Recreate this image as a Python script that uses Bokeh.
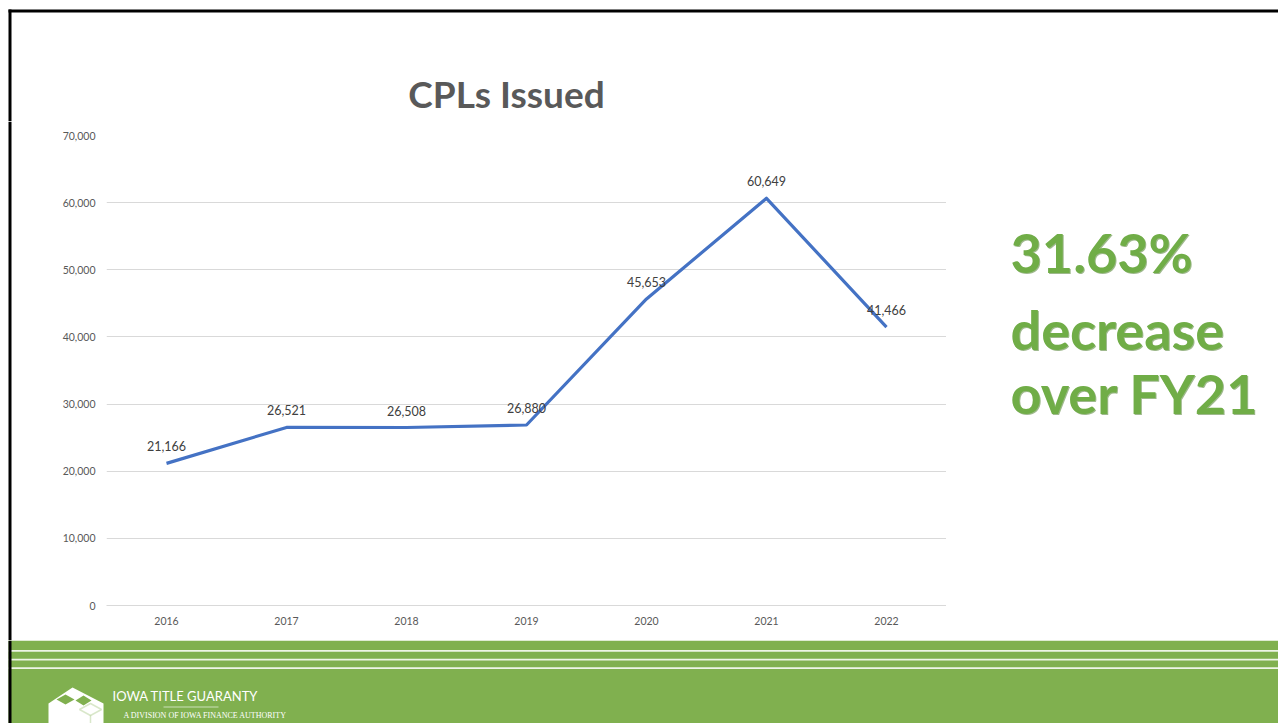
from bokeh.plotting import figure
from bokeh.layouts import column, row
from bokeh.models import (Range1d, FixedTicker, NumeralTickFormatter, Label, LabelSet,
                          BoxAnnotation, PolyAnnotation, ColumnDataSource)
from bokeh.core.properties import value
from bokeh.embed import file_html
from bokeh.resources import INLINE

# ---------------- data ----------------
years = ["2016", "2017", "2018", "2019", "2020", "2021", "2022"]
cpls = [21166, 26521, 26508, 26880, 45653, 60649, 41466]
y_ticks = [0, 10000, 20000, 30000, 40000, 50000, 60000, 70000]
title_text = "CPLs Issued"
note_lines = ["31.63%", "decrease", "over FY21"]
brand = "IOWA TITLE GUARANTY"
brand_sub = "A DIVISION OF IOWA FINANCE AUTHORITY"

# ---------------- layout (page pixels) ----------------
W, H = 1278, 723
FL, FT, FR, FB = 106, 135, 946, 605   # plot frame in page coordinates
TOP_H = 121                            # header strip height
FOOT_Y = 640                           # footer band top
STRIP_W = 12                           # left border strip width
GREEN = "#80B04F"
TEXT_GREEN = "#70AD47"
GRAY = "#595959"


def deco(x0, x1, y0, y1):
    """Decoration figure whose data coordinates equal page pixels."""
    f = figure(width=x1 - x0, height=y1 - y0, x_range=Range1d(x0, x1),
               y_range=Range1d(y1, y0), x_axis_type=None, y_axis_type=None,
               output_backend="svg", toolbar_location=None, min_border=0)
    f.outline_line_color = None
    f.background_fill_color = "white"
    f.border_fill_color = "white"
    return f


def label(f, x, base, text, size, mid=0.387, **kw):
    # place by alphabetic baseline; label is anchored on the middle of its text box
    f.add_layout(Label(x=x, y=base - mid * size, text=text, text_baseline="middle",
                       text_font_size=f"{size}px", level="overlay", **kw))


def box(f, l, t, r, b, color, alpha=1.0):
    f.add_layout(BoxAnnotation(left=l, right=r, top=t, bottom=b,
                               fill_color=color, fill_alpha=alpha, line_color=None,
                               level="overlay"))


def poly(f, pts, color, line=None):
    f.add_layout(PolyAnnotation(xs=[a for a, _ in pts], ys=[b for _, b in pts],
                                fill_color=color if line is None else None,
                                fill_alpha=1.0, line_color=line,
                                line_width=1.5, level="overlay"))


# ---------------- header ----------------
top = deco(0, W, 0, TOP_H)
box(top, 8, 9, W, 12, "black")
box(top, 8, 9, 11, TOP_H, "black")
label(top, 506, 107, title_text, 37, text_align="center", text_font="Lato",
      text_font_style="bold", text_color=GRAY)

# ---------------- left border strip ----------------
left = deco(0, STRIP_W, TOP_H, FOOT_Y)
box(left, 8, TOP_H, 11, FOOT_Y, "black")

# ---------------- chart ----------------
xpos = list(range(len(years)))
p = figure(width=FR - STRIP_W, height=FOOT_Y - TOP_H,
           x_range=Range1d(-0.5, len(years) - 0.5), y_range=Range1d(0, 70000),
           output_backend="svg", toolbar_location=None,
           min_border_left=FL - STRIP_W, min_border_right=0,
           min_border_top=FT - TOP_H, min_border_bottom=FOOT_Y - FB)
p.background_fill_color = "white"
p.border_fill_color = "white"
p.outline_line_color = None

p.xaxis.ticker = FixedTicker(ticks=xpos)
p.xaxis.major_label_overrides = {i: y for i, y in zip(xpos, years)}
p.yaxis.ticker = FixedTicker(ticks=y_ticks)
p.yaxis.formatter = NumeralTickFormatter(format="0,0")
for ax in (p.xaxis, p.yaxis):
    ax.major_tick_line_color = None
    ax.minor_tick_line_color = None
    ax.major_tick_out = 0
    ax.major_tick_in = 0
    ax.minor_tick_out = 0
    ax.major_label_text_font = "Lato"
    ax.major_label_text_font_size = "10.5px"
    ax.major_label_text_color = GRAY
p.yaxis.axis_line_color = None
p.yaxis.major_label_standoff = 11
p.xaxis.axis_line_color = "#D9D9D9"
p.xaxis.major_label_standoff = 11
p.xgrid.grid_line_color = None
p.ygrid.ticker = FixedTicker(ticks=y_ticks)
p.ygrid.grid_line_color = "#D9D9D9"
p.ygrid.grid_line_width = 1

src = ColumnDataSource(dict(x=xpos, y=cpls, lbl=[f"{v:,}" for v in cpls]))
p.line("x", "y", source=src, line_color="#4472C4", line_width=3.2, line_join="round")
p.add_layout(LabelSet(x="x", y="y", text="lbl", source=src, y_offset=12,
                      text_align="center", text_baseline="alphabetic",
                      text_font=value("Lato"), text_font_size=value("12.5px"),
                      text_color="#404040"))

# ---------------- right strip with note ----------------
right = deco(FR, W, TOP_H, FOOT_Y)
for txt, base in zip(note_lines, [273, 350, 414]):
    label(right, 1011, base + 1, txt, 54, text_align="left", text_font="Lato",
          text_font_style="bold", text_color="#4E7F2E", text_alpha=0.55)
    label(right, 1010, base, txt, 54, text_align="left", text_font="Lato",
          text_font_style="bold", text_color=TEXT_GREEN)

# ---------------- footer ----------------
foot = deco(0, W, FOOT_Y, H)
box(foot, 8, FOOT_Y, W, H, GREEN)
for t, b in [(649.5, 651.2), (658.3, 660), (666.8, 668.5)]:
    box(foot, 8, t, W, b, "#EEF5E6")
poly(foot, [(48, 703), (72, 687), (103, 703), (103, 723), (48, 723)], "white")
poly(foot, [(56, 699), (65, 694), (74, 699), (65, 704)], GREEN)
poly(foot, [(75, 700), (83, 695), (91, 700), (83, 705)], GREEN)
poly(foot, [(79, 709), (90, 703), (101, 709), (90, 715)], None, line=GREEN)
poly(foot, [(90, 715), (90, 723)], None, line=GREEN)
label(foot, 112, 701, brand, 13, text_align="left", text_font="Lato",
      text_color="white")
box(foot, 163, 706, 218, 707, "white", 0.6)
label(foot, 123, 718, brand_sub, 8, mid=0.35, text_align="left",
      text_font="Liberation Sans Narrow", text_color="white")
box(foot, 8, FOOT_Y, 11, H, "black")

layout = column(top, row(column(left), p, column(right), spacing=0), foot, spacing=0)
open("out.html", "w").write(file_html(layout, INLINE))
